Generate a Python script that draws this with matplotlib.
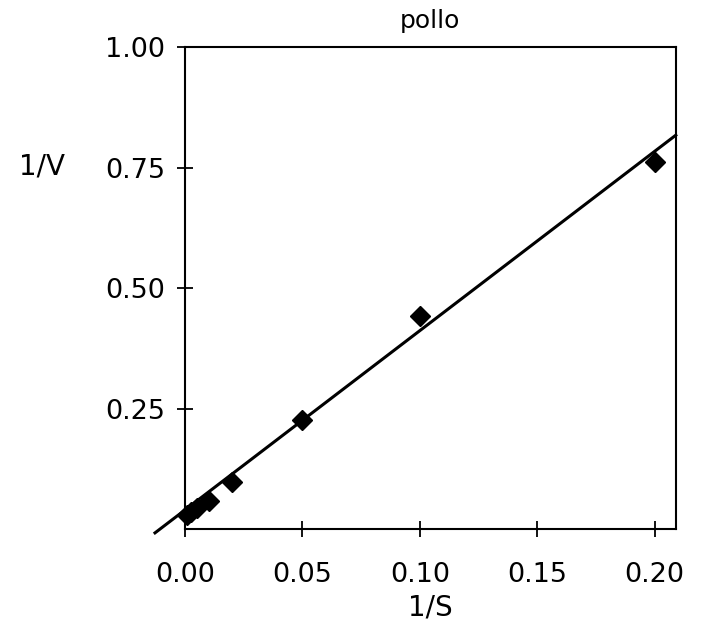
import numpy as np
import matplotlib.pyplot as plt

# Lineweaver-Burk data, "pollo"
inv_s = [0.001, 0.0025, 0.005, 0.01, 0.02, 0.05, 0.10, 0.20]
inv_v = [0.030, 0.035, 0.045, 0.058, 0.097, 0.226, 0.442, 0.762]

# fitted line (intercept, slope) and its x span
fit_b = 0.04
fit_m = 3.72
fit_x = [-0.0128, 0.209]

xticks = [0.00, 0.05, 0.10, 0.15, 0.20]
yticks = [0.25, 0.50, 0.75, 1.00]

plt.rcParams['font.family'] = ['DejaVu Sans']

fig = plt.figure(figsize=(7.01, 6.30), dpi=100)
ax = fig.add_axes([0.264, 0.160, 0.700, 0.765])

fx = np.array(fit_x)
ax.plot(fx, fit_b + fit_m * fx, color='black', lw=2.2, clip_on=False, zorder=3)
ax.plot(inv_s, inv_v, 'D', color='black', markersize=10, clip_on=False, zorder=4)

ax.set_xlim(0, 0.209)
ax.set_ylim(0, 1.0)
ax.set_xticks(xticks)
ax.set_xticklabels(['%.2f' % t for t in xticks])
ax.set_yticks(yticks)
ax.set_yticklabels(['%.2f' % t for t in yticks])

for s in ax.spines.values():
    s.set_linewidth(1.5)

ax.tick_params(direction='inout', length=11, width=1.3, labelsize=19.5)
ax.tick_params(axis='x', pad=18)
ax.tick_params(axis='y', pad=9)

ax.set_title('pollo', fontsize=18, pad=14)
ax.set_xlabel('1/S', fontsize=20, labelpad=4)
fig.text(0.06, 0.735, '1/V', fontsize=20, ha='center', va='center')

fig.savefig('out.png', dpi=100, facecolor='white')
